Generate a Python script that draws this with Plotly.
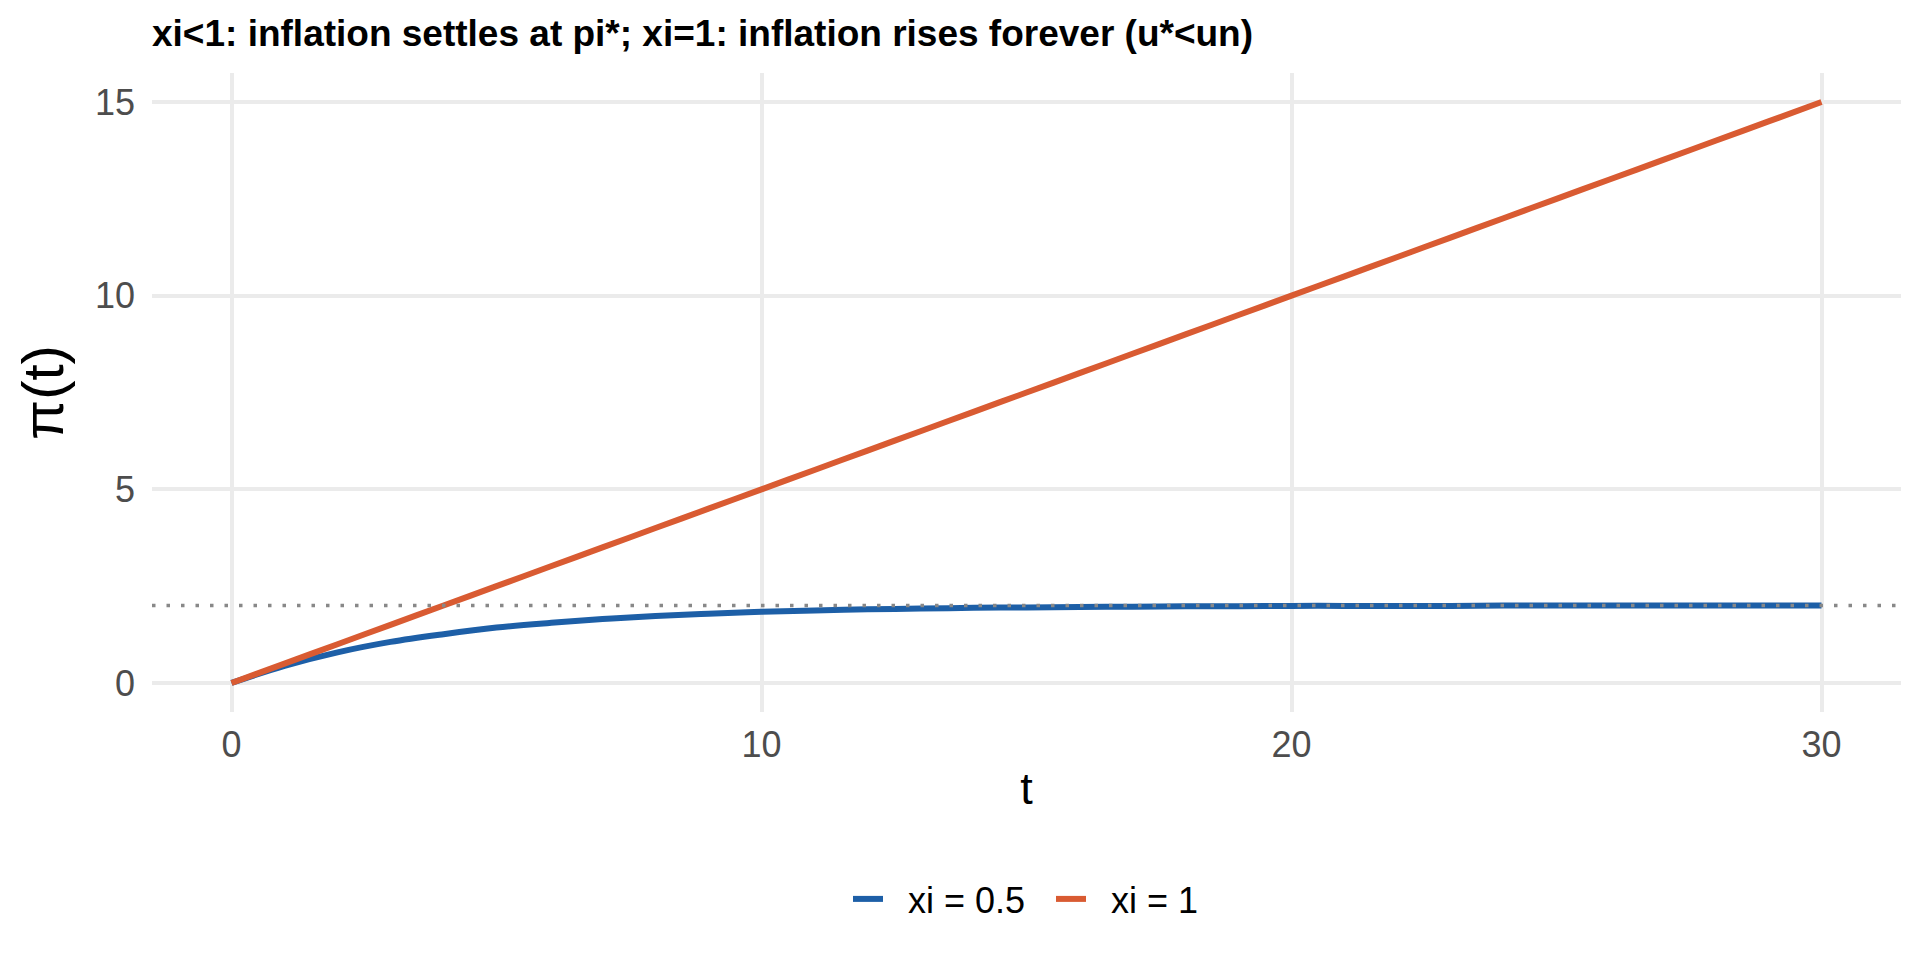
import plotly.graph_objects as go

# values
t = list(range(0, 31))
pi_xi_half = [0.00, 0.44, 0.79, 1.06, 1.26, 1.43, 1.55, 1.65, 1.73, 1.79,
              1.84, 1.87, 1.90, 1.92, 1.94, 1.95, 1.96, 1.97, 1.98, 1.98,
              1.99, 1.99, 1.99, 1.99, 2.00, 2.00, 2.00, 2.00, 2.00, 2.00, 2.00]
pi_xi_one = [0.0, 0.5, 1.0, 1.5, 2.0, 2.5, 3.0, 3.5, 4.0, 4.5,
             5.0, 5.5, 6.0, 6.5, 7.0, 7.5, 8.0, 8.5, 9.0, 9.5,
             10.0, 10.5, 11.0, 11.5, 12.0, 12.5, 13.0, 13.5, 14.0, 14.5, 15.0]
pi_star = 2
series_names = ["xi = 0.5", "xi = 1"]
series_colors = ["#1D5FA7", "#D95B32"]
x_ticks = [0, 10, 20, 30]
y_ticks = [0, 5, 10, 15]

title_text = "xi<1: inflation settles at pi*; xi=1: inflation rises forever (u*<un)"

FONT = "Liberation Sans, Arial, sans-serif"
GRID = "#EBEBEB"
NB = "\u00a0"

fig = go.Figure()
for name, vals, col in zip(series_names, [pi_xi_half, pi_xi_one], series_colors):
    fig.add_trace(go.Scatter(x=t, y=vals, mode="lines", name=NB * 2 + name,
                             line=dict(color=col, width=6, shape="spline")))

# reference level pi*, drawn over the lines
fig.add_hline(y=pi_star, line=dict(color="#888888", width=3.5, dash="3.5px,11px"),
              layer="above")

# page body has an 8px margin, so the figure is a bit smaller than the window
W, H = 1904, 944
fig.update_layout(
    width=W, height=H,
    margin=dict(l=144, r=11, t=65, b=240),
    paper_bgcolor="white", plot_bgcolor="white",
    font=dict(family=FONT, color="black"),
    title=dict(text="<b>" + title_text + "</b>", x=0, xref="paper", xanchor="left",
               y=1 - 25 / H, yref="container", yanchor="middle",
               font=dict(size=37, family=FONT, color="black")),
    legend=dict(orientation="h", x=0.514, xanchor="center",
                y=1 - 891 / H, yref="container", yanchor="middle",
                font=dict(size=36, family=FONT, color="black"),
                entrywidth=158, entrywidthmode="pixels", traceorder="normal"),
    showlegend=True,
)

fig.update_xaxes(range=[-1.5, 31.5], tickvals=x_ticks, showgrid=True, gridcolor=GRID,
                 gridwidth=4, zeroline=False, showline=False, ticks="",
                 tickfont=dict(size=36, color="#4D4D4D", family=FONT),
                 ticklabelstandoff=8, automargin=False,
                 title=dict(text="t", font=dict(size=45, color="black", family=FONT),
                            standoff=8))
fig.update_yaxes(range=[-0.75, 15.75], tickvals=y_ticks, showgrid=True, gridcolor=GRID,
                 gridwidth=4, zeroline=False, showline=False, ticks="",
                 tickfont=dict(size=36, color="#4D4D4D", family=FONT),
                 ticklabelstandoff=16, automargin=False,
                 title=dict(text="π(t)", font=dict(size=58, color="black", family=FONT),
                            standoff=12))

fig.write_html("out.html")
